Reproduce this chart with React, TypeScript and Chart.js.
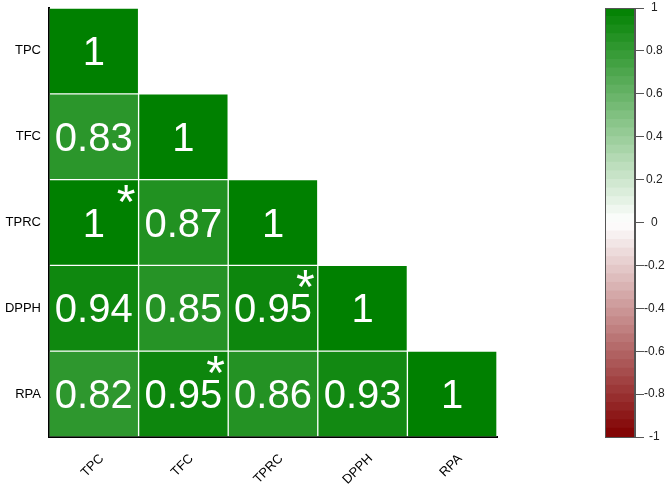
import React, { useEffect, useRef } from "react";
import { Chart, registerables } from "chart.js";

Chart.register(...registerables);

// ---- data ----
const variables = ["TPC", "TFC", "TPRC", "DPPH", "RPA"];
const rowTPC = [1];
const rowTFC = [0.83, 1];
const rowTPRC = [1, 0.87, 1];
const rowDPPH = [0.94, 0.85, 0.95, 1];
const rowRPA = [0.82, 0.95, 0.86, 0.93, 1];
const correlationRows = [rowTPC, rowTFC, rowTPRC, rowDPPH, rowRPA];
// [row variable, column variable]
const significantCells = [
  ["TPRC", "TPC"],
  ["DPPH", "TPRC"],
  ["RPA", "TFC"],
];
const colorbarMin = -1;
const colorbarMax = 1;
const colorbarStep = 0.2;
const colorbarBands = 50;

const FONT = '"Liberation Sans", Arial, Helvetica, sans-serif';

function corrColor(v: number): string {
  const t = Math.max(-1, Math.min(1, v));
  if (t >= 0) {
    const r = Math.round(255 * (1 - t));
    const g = Math.round(255 - (255 - 128) * t);
    return `rgb(${r},${g},${r})`;
  }
  const a = -t;
  const r = Math.round(255 - (255 - 128) * a);
  const gb = Math.round(255 * (1 - a));
  return `rgb(${r},${gb},${gb})`;
}

export default function App() {
  const mainRef = useRef<HTMLCanvasElement | null>(null);
  const barRef = useRef<HTMLCanvasElement | null>(null);

  useEffect(() => {
    const n = variables.length;
    const datasets = correlationRows.map((row, i) => ({
      label: variables[i],
      data: variables.map((_, j) => (j < row.length ? [n - 1 - i, n - i] : null)),
      backgroundColor: variables.map((_, j) =>
        j < row.length ? corrColor(row[j]) : "rgba(0,0,0,0)"
      ),
      borderColor: "rgba(255,255,255,0.2)",
      borderWidth: 1,
      borderSkipped: false,
      barPercentage: 1,
      categoryPercentage: 1,
      grouped: false,
    }));

    const textPlugin = {
      id: "cellText",
      afterDatasetsDraw(chart: any) {
        const { ctx, scales } = chart;
        const x = scales.x;
        const y = scales.y;
        ctx.save();
        ctx.fillStyle = "#ffffff";
        ctx.textAlign = "center";
        ctx.textBaseline = "alphabetic";
        ctx.font = `40px ${FONT}`;
        const dm = ctx.measureText("0");
        const digitHalf = (dm.actualBoundingBoxAscent - dm.actualBoundingBoxDescent) / 2;
        correlationRows.forEach((row, i) => {
          row.forEach((v, j) => {
            const cx = x.getPixelForValue(j);
            const cy = y.getPixelForValue(n - 0.5 - i);
            ctx.fillText(String(v), cx, cy + digitHalf);
          });
        });
        ctx.font = `48px ${FONT}`;
        const sm = ctx.measureText("*");
        const starHalf = (sm.actualBoundingBoxAscent - sm.actualBoundingBoxDescent) / 2;
        significantCells.forEach(([r, c]) => {
          const i = variables.indexOf(r);
          const j = variables.indexOf(c);
          const right = x.getPixelForValue(j + 0.5);
          const top = y.getPixelForValue(n - i);
          ctx.fillText("*", right - 12.5, top + 13.5 + starHalf);
        });
        ctx.restore();
      },
    };

    const main = new Chart(mainRef.current as HTMLCanvasElement, {
      type: "bar",
      data: { labels: variables, datasets: datasets as any },
      options: {
        animation: false,
        responsive: false,
        maintainAspectRatio: false,
        layout: { padding: { top: 8, right: 63, left: 0, bottom: 0 } },
        plugins: { legend: { display: false }, tooltip: { enabled: false } },
        scales: {
          x: {
            type: "category",
            grid: { display: false, drawTicks: false },
            border: { display: true, color: "#000", width: 2 },
            ticks: {
              font: { family: FONT, size: 13 },
              color: "#000",
              minRotation: 45,
              maxRotation: 45,
              padding: 14,
              labelOffset: 8,
            },
            afterFit: (s: any) => {
              s.height = 51;
              s.paddingLeft = 0;
              s.paddingRight = 0;
            },
          },
          y: {
            type: "linear",
            min: 0,
            max: n,
            grid: { display: false, drawTicks: false },
            border: { display: true, color: "#000", width: 2 },
            afterBuildTicks: (s: any) => {
              s.ticks = variables.map((_, k) => ({ value: k + 0.5 }));
            },
            ticks: {
              font: { family: FONT, size: 13 },
              color: "#000",
              padding: 8,
              callback: (v: any) => variables[n - 1 - Math.floor(Number(v))],
            },
            afterFit: (s: any) => {
              s.width = 49;
              s.paddingTop = 0;
              s.paddingBottom = 0;
            },
          },
        },
      } as any,
      plugins: [textPlugin],
    });

    const bandSize = (colorbarMax - colorbarMin) / colorbarBands;
    const bandDatasets = Array.from({ length: colorbarBands }, (_, k) => {
      const lo = colorbarMin + k * bandSize;
      const hi = lo + bandSize;
      return {
        label: `b${k}`,
        data: [[lo, hi]],
        backgroundColor: corrColor((lo + hi) / 2),
        borderWidth: 0,
        barPercentage: 1,
        categoryPercentage: 1,
        grouped: false,
        inflateAmount: 0.6,
      };
    });

    const framePlugin = {
      id: "frame",
      afterDatasetsDraw(chart: any) {
        const { ctx, chartArea } = chart;
        ctx.save();
        ctx.strokeStyle = "#555";
        ctx.lineWidth = 1;
        ctx.strokeRect(
          Math.round(chartArea.left) + 0.5,
          Math.round(chartArea.top) + 0.5,
          Math.round(chartArea.right - chartArea.left) - 1,
          Math.round(chartArea.bottom - chartArea.top)
        );
        ctx.restore();
      },
    };

    const bar = new Chart(barRef.current as HTMLCanvasElement, {
      type: "bar",
      data: { labels: [""], datasets: bandDatasets as any },
      options: {
        animation: false,
        responsive: false,
        maintainAspectRatio: false,
        layout: { padding: { top: 8, right: 0, left: 45, bottom: 51 } },
        plugins: { legend: { display: false }, tooltip: { enabled: false } },
        scales: {
          x: { display: false },
          y: {
            type: "linear",
            position: "right",
            min: colorbarMin,
            max: colorbarMax,
            grid: { drawOnChartArea: false, drawTicks: true, tickLength: 9, color: "#555" },
            border: { display: true, color: "#555", width: 1 },
            ticks: {
              stepSize: colorbarStep,
              font: { family: FONT, size: 12 },
              color: "#222",
              padding: 0,
              crossAlign: "center",
              callback: (v: any) => String(Number(Number(v).toFixed(1))),
            },
            afterFit: (s: any) => {
              s.width = 34;
              s.paddingTop = 0;
              s.paddingBottom = 0;
            },
          },
        },
      } as any,
      plugins: [framePlugin],
    });

    return () => {
      main.destroy();
      bar.destroy();
    };
  }, []);

  return (
    <div
      style={{
        position: "fixed",
        left: 0,
        top: 0,
        width: 669,
        height: 488,
        background: "#fff",
      }}
    >
      <canvas
        ref={mainRef}
        width={560}
        height={488}
        style={{ position: "absolute", left: 0, top: 0, width: 560, height: 488 }}
      />
      <canvas
        ref={barRef}
        width={109}
        height={488}
        style={{ position: "absolute", left: 560, top: 0, width: 109, height: 488 }}
      />
    </div>
  );
}
